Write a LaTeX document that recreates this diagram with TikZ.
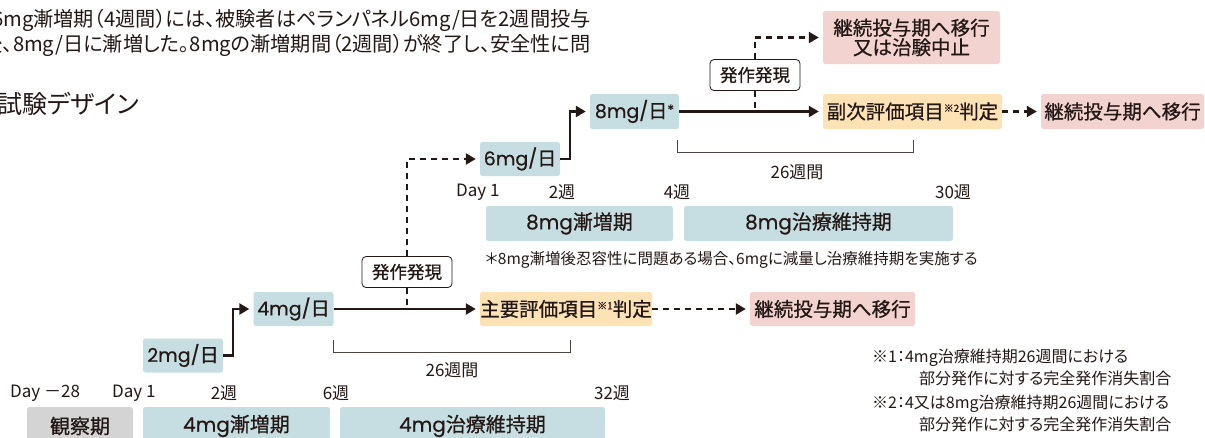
\documentclass[tikz,border=0pt]{standalone}
\usepackage{fontspec}
\setmainfont[RawFeature=+palt]{Noto Sans CJK JP}
\newfontfamily\medf[RawFeature=+palt, FakeBold=0.7]{Noto Sans CJK JP}
\newfontfamily\latf[FakeBold=0.4]{Poppins}
\newcommand{\lt}[1]{{\latf #1}}
\usetikzlibrary{arrows.meta}
\definecolor{cTeal}{HTML}{C6DDE1}
\definecolor{cPeach}{HTML}{FDE2B6}
\definecolor{cPink}{HTML}{F2D3D0}
\definecolor{cGray}{HTML}{D4D4D4}
\definecolor{cInk}{HTML}{231815}
\newcommand{\fs}[1]{\fontsize{#1}{#1}\selectfont}
\newcommand{\supmark}[1]{{\fs{10}\raisebox{7pt}{#1}}}
\newcommand{\starmark}{{\latf\fs{14}\raisebox{3pt}{*}}}
\tikzset{
  box/.style={rounded corners=2.5pt, inner sep=0pt, text=cInk, align=center},
  dose/.style={box, fill=cTeal, minimum height=34, font=\medf\fs{19}},
  phase/.style={box, fill=cTeal, minimum height=34, font=\medf\fs{20}},
  evalbox/.style={box, fill=cPeach, minimum height=34, font=\medf\fs{19.5}},
  nextbox/.style={box, fill=cPink, minimum height=34, font=\medf\fs{19.5}},
  seizure/.style={box, draw=cInk, line width=0.8pt, rounded corners=4pt, fill=white, minimum width=90, minimum height=31, font=\medf\fs{17.5}},
  wk/.style={inner sep=0pt, text=cInk, font=\fs{17}},
  note/.style={inner sep=0pt, text=cInk, font=\fs{16}, anchor=west},
  arr/.style={draw=cInk, line width=2.3pt, -{Triangle[length=10pt,width=11pt]}, shorten >=4pt},
  darr/.style={arr, dash pattern=on 6pt off 5pt},
  dline/.style={draw=cInk, line width=2.3pt, dash pattern=on 6pt off 5pt},
  brk/.style={draw=cInk!80, line width=0.8pt},
}
\begin{document}
\begin{tikzpicture}[x=1pt, y=-1pt]
\useasboundingbox (0,0) rectangle (1205,437);
% intro text
\node[inner sep=0pt, anchor=east, text=cInk, font=\fs{20.2}] (intro1) at (591,20) {6mg漸増期（4週間）には、被験者はペランパネル6mg/日を2週間投与};
\node[inner sep=0pt, anchor=east, text=cInk, font=\fs{20.2}] (intro2) at (591,45) {後、8mg/日に漸増した。8mgの漸増期間（2週間）が終了し、安全性に問};
\node[inner sep=0pt, anchor=east, text=cInk, font=\fs{25}] (title) at (139,104) {試験デザイン};

% ---------- upper (8mg) ----------
\node[nextbox, minimum width=177, minimum height=53] (nextA) at (911.5,37.5) {継続投与期へ移行\\又は治験中止};
\node[seizure] (hB) at (755,75) {発作発現};
\node[dose, minimum width=89, minimum height=35] (d8) at (634.5,111.5) {\lt{8mg/}日\starmark};
\node[evalbox, minimum width=179, minimum height=35] (ev2) at (912.5,111.5) {副次評価項目\supmark{※2}判定};
\node[nextbox, minimum width=163, minimum height=35] (nextB) at (1122.5,111.5) {継続投与期へ移行};
\node[dose, minimum width=80] (d6) at (520,159) {\lt{6mg/}日};

\draw[arr] (d8.east) -- (ev2.west);
\draw[darr] (ev2.east) -- (nextB.west);
\draw[darr] (hB.north) |- (nextA.west);
\draw[dline] (hB.south) -- (hB.south |- d8.east);
\draw[arr] (d6.east) -- ++(10,0) |- (d8.west);

\coordinate (b2l) at (677,140);
\coordinate (b2r) at (913,140);
\draw[brk] (b2l) -- ++(0,12) -| (b2r);
\node[wk] (w26b) at (797,172) {26週間};

\node[wk, anchor=west] (u0) at (456,192) {Day 1};
\node[wk] (u2) at (562,192) {2週};
\node[wk] (u4) at (677,192) {4週};
\node[wk] (u30) at (953,192) {30週};

\node[phase, minimum width=187, minimum height=35] (p8a) at (579.5,223.5) {\lt{8mg}漸増期};
\node[phase, minimum width=269, minimum height=35] (p8b) at (818.5,223.5) {\lt{8mg}治療維持期};
\node[inner sep=0pt, anchor=west, text=cInk, font=\fs{15.5}] (star) at (485,260) {＊8mg漸増後忍容性に問題ある場合、6mgに減量し治療維持期を実施する};

% ---------- lower (4mg) ----------
\node[seizure] (hA) at (407,272) {発作発現};
\node[dose, minimum width=80] (d4) at (293.5,309) {\lt{4mg/}日};
\node[evalbox, minimum width=172] (ev1) at (566,309) {主要評価項目\supmark{※1}判定};
\node[nextbox, minimum width=165] (nextC) at (832.5,309) {継続投与期へ移行};
\node[dose, minimum width=80] (d2) at (183,355.5) {\lt{2mg/}日};

\draw[arr] (d4.east) -- (ev1.west);
\draw[darr] (ev1.east) -- (nextC.west);
\draw[dline] (hA.south) -- (hA.south |- d4.east);
\draw[darr] (hA.north) |- (d6.west);
\draw[arr] (d2.east) -- ++(10,0) |- (d4.west);

\coordinate (b1l) at (333,340);
\coordinate (b1r) at (570,340);
\draw[brk] (b1l) -- ++(0,12) -| (b1r);
\node[wk] (w26a) at (452,370) {26週間};

\node[wk, anchor=west] (l0) at (10,393) {Day －28};
\node[wk, anchor=west] (l1) at (112,393) {Day 1};
\node[wk] (l2) at (224,393) {2週};
\node[wk] (l6) at (336,393) {6週};
\node[wk] (l32) at (612,393) {32週};

\node[box, fill=cGray, minimum width=106, minimum height=38, font=\medf\fs{20}] (obs) at (80,426) {観察期};
\node[phase, minimum width=187, minimum height=38] (p4a) at (236.5,426) {\lt{4mg}漸増期};
\node[phase, minimum width=265, minimum height=38] (p4b) at (472.5,426) {\lt{4mg}治療維持期};

% footnotes
\node[note] (n1a) at (872,358) {※1：4mg治療維持期26週間における};
\node[note] (n1b) at (919,378) {部分発作に対する完全発作消失割合};
\node[note] (n2a) at (872,404) {※2：4又は8mg治療維持期26週間における};
\node[note] (n2b) at (919,424) {部分発作に対する完全発作消失割合};
\end{tikzpicture}
\end{document}
